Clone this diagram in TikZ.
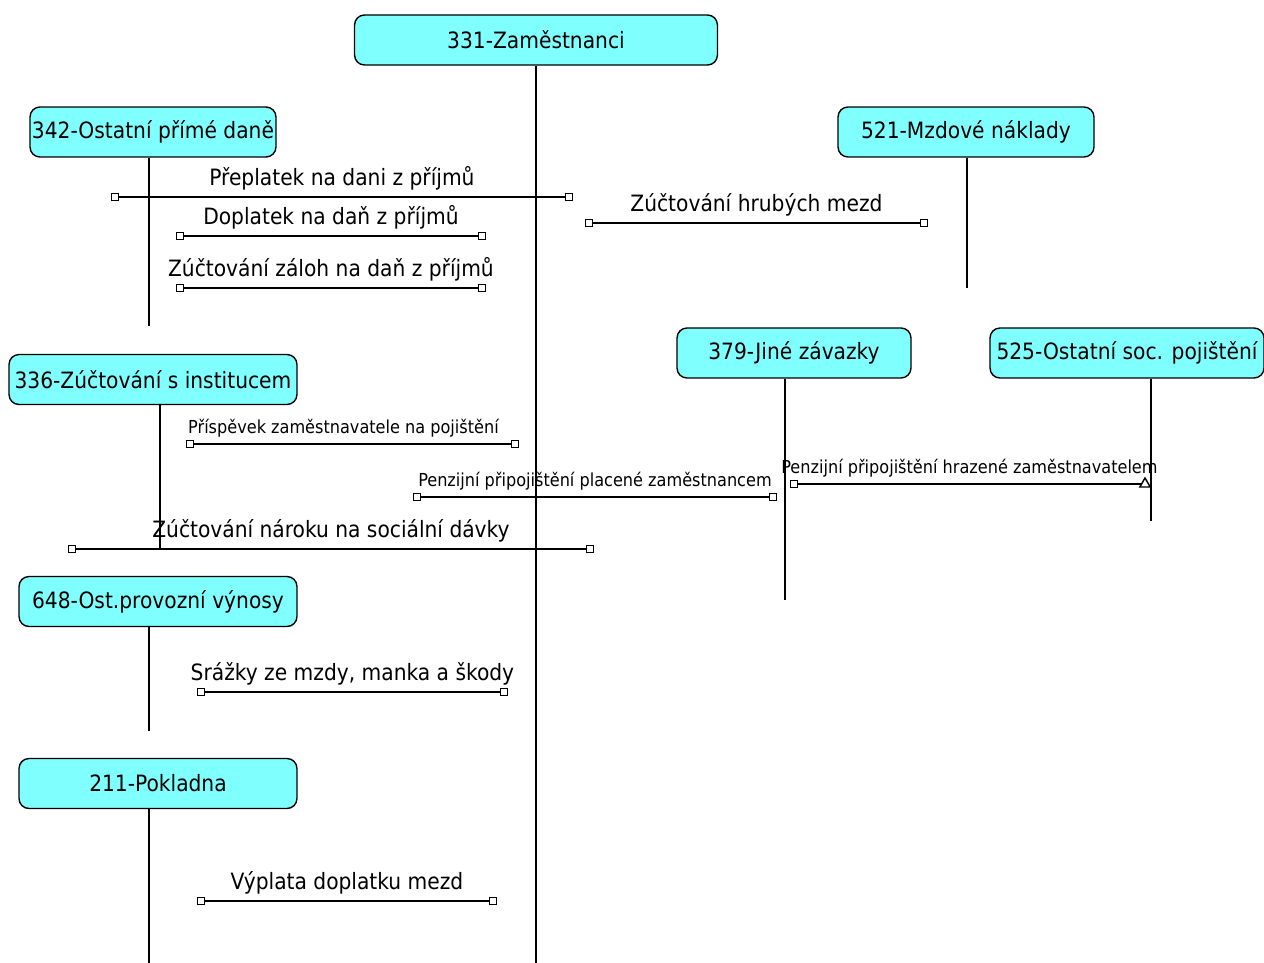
\documentclass[tikz,border=0pt]{standalone}
\usepackage{fontspec}
\setmainfont{DejaVu Sans Condensed}
\usetikzlibrary{shapes.geometric}
\definecolor{acctcyan}{RGB}{128,255,255}
\tikzset{
  acct/.style={draw, fill=acctcyan, rounded corners=0.2cm, minimum height=1cm, line width=0.8pt, inner sep=1pt, font=\fontsize{12.8}{15}\selectfont},
  life/.style={line width=1pt},
  msg/.style={line width=1.2pt},
  endsq/.style={draw, fill=white, minimum size=0.14cm, inner sep=0pt, line width=0.9pt},
  endtri/.style={draw, fill=white, regular polygon, regular polygon sides=3, minimum size=0.24cm, inner sep=0pt, line width=0.8pt},
  lbl/.style={inner sep=1pt, font=\fontsize{12.8}{15}\selectfont},
  smalllbl/.style={inner sep=1pt, font=\fontsize{10.2}{12}\selectfont}
}
\begin{document}
\begin{tikzpicture}[x=0.02cm, y=-0.02cm]
\useasboundingbox (0,0) rectangle (1264,963);
% ucty
\node[acct, minimum width=7.26cm] (zam) at (536,40) {331-Zaměstnanci};
\node[acct, minimum width=4.92cm] (dane) at (153,132) {342-Ostatní přímé daně};
\node[acct, minimum width=5.12cm] (mzd) at (966,132) {521-Mzdové náklady};
\node[acct, minimum width=5.76cm] (inst) at (153,379.5) {336-Zúčtování s institucem};
\node[acct, minimum width=4.68cm] (jine) at (794,353) {379-Jiné závazky};
\node[acct, minimum width=5.48cm] (soc) at (1127,353) {525-Ostatní soc. pojištění};
\node[acct, minimum width=5.56cm] (vyn) at (158,601.5) {648-Ost.provozní výnosy};
\node[acct, minimum width=5.56cm] (pokl) at (158,783.5) {211-Pokladna};
% casove osy
\coordinate (zamE) at (536,963);
\coordinate (daneE) at (149,326);
\coordinate (mzdE) at (967,288);
\coordinate (instE) at (160,549);
\coordinate (jineE) at (785,600);
\coordinate (socE) at (1151,521);
\coordinate (vynE) at (149,731);
\coordinate (poklE) at (149,963);
\draw[life] (zam.south) -- (zamE);
\draw[life] (daneE |- dane.south) -- (daneE);
\draw[life] (mzdE |- mzd.south) -- (mzdE);
\draw[life] (instE |- inst.south) -- (instE);
\draw[life] (jineE |- jine.south) -- (jineE);
\draw[life] (socE |- soc.south) -- (socE);
\draw[life] (vynE |- vyn.south) -- (vynE);
\draw[life] (poklE |- pokl.south) -- (poklE);
% zpravy
\node[endsq] (prepA) at (115,197) {};
\node[endsq] (prepB) at (569,197) {};
\draw[msg] (prepA) -- (prepB) node[lbl, midway, above=2.5pt] {Přeplatek na dani z příjmů};
\node[endsq] (doplA) at (180,236) {};
\node[endsq] (doplB) at (482,236) {};
\draw[msg] (doplA) -- (doplB) node[lbl, midway, above=2.5pt] {Doplatek na daň z příjmů};
\node[endsq] (zalA) at (180,288) {};
\node[endsq] (zalB) at (482,288) {};
\draw[msg] (zalA) -- (zalB) node[lbl, midway, above=2.5pt] {Zúčtování záloh na daň z příjmů};
\node[endsq] (hrubA) at (589,223) {};
\node[endsq] (hrubB) at (924,223) {};
\draw[msg] (hrubA) -- (hrubB) node[lbl, midway, above=2.5pt] {Zúčtování hrubých mezd};
\node[endsq] (prisA) at (190,444) {};
\node[endsq] (prisB) at (515,444) {};
\draw[msg] (prisA) -- (prisB) node[smalllbl, midway, above=2.5pt, xshift=-0.18cm] {Příspěvek zaměstnavatele na pojištění};
\node[endsq] (placA) at (417,497) {};
\node[endsq] (placB) at (773,497) {};
\draw[msg] (placA) -- (placB) node[smalllbl, midway, above=2.5pt] {Penzijní připojištění placené zaměstnancem};
\node[endsq] (hrazA) at (794,484) {};
\node[endtri] (hrazB) at (1145,484) {};
\draw[msg] (hrazA) -- (hrazB) node[smalllbl, midway, above=2.5pt] {Penzijní připojištění hrazené zaměstnavatelem};
\node[endsq] (narA) at (72,549) {};
\node[endsq] (narB) at (590,549) {};
\draw[msg] (narA) -- (narB) node[lbl, midway, above=2.5pt] {Zúčtování nároku na sociální dávky};
\node[endsq] (srzA) at (201,692) {};
\node[endsq] (srzB) at (504,692) {};
\draw[msg] (srzA) -- (srzB) node[lbl, midway, above=2.5pt] {Srážky ze mzdy, manka a škody};
\node[endsq] (vyplA) at (201,901) {};
\node[endsq] (vyplB) at (493,901) {};
\draw[msg] (vyplA) -- (vyplB) node[lbl, midway, above=2.5pt] {Výplata doplatku mezd};
\end{tikzpicture}
\end{document}
